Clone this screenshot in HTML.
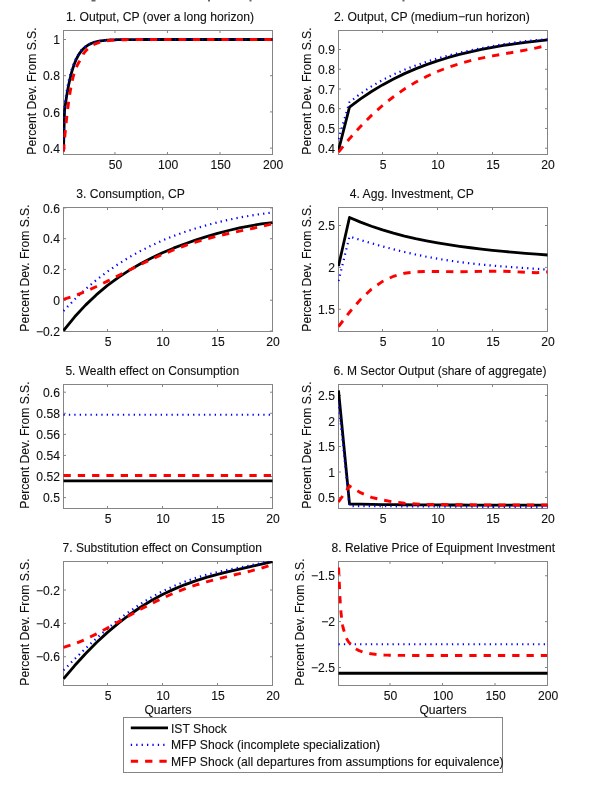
<!DOCTYPE html><html><head><meta charset="utf-8"><style>html,body{margin:0;padding:0;background:#fff;width:600px;height:795px;overflow:hidden}svg{display:block;will-change:transform}text{font-family:"Liberation Sans",sans-serif}</style></head><body><svg width="600" height="795" viewBox="0 0 600 795">
<rect width="600" height="795" fill="#fff"/>
<rect x="91.5" y="0" width="4" height="1.5" fill="#666"/>
<rect x="208.0" y="0" width="2" height="1.5" fill="#666"/>
<rect x="249.5" y="0" width="2" height="1.5" fill="#666"/>
<rect x="402.5" y="0" width="2" height="1.5" fill="#666"/>
<clipPath id="c1"><rect x="62.9" y="29.9" width="210.2" height="125.2"/></clipPath>
<rect x="63.5" y="30.5" width="209.0" height="124.0" fill="none" stroke="#858585" stroke-width="1"/>
<path d="M63.5 148.10h2.5M272.5 148.10h-2.5" stroke="#858585" stroke-width="1"/>
<text x="60.00" y="152.70" text-anchor="end" font-family="Liberation Sans, sans-serif" font-size="12.15" stroke="#000" stroke-width="0.2" stroke-opacity="0.5" fill="#111">0.4</text>
<path d="M63.5 111.90h2.5M272.5 111.90h-2.5" stroke="#858585" stroke-width="1"/>
<text x="60.00" y="116.50" text-anchor="end" font-family="Liberation Sans, sans-serif" font-size="12.15" stroke="#000" stroke-width="0.2" stroke-opacity="0.5" fill="#111">0.6</text>
<path d="M63.5 75.70h2.5M272.5 75.70h-2.5" stroke="#858585" stroke-width="1"/>
<text x="60.00" y="80.30" text-anchor="end" font-family="Liberation Sans, sans-serif" font-size="12.15" stroke="#000" stroke-width="0.2" stroke-opacity="0.5" fill="#111">0.8</text>
<path d="M63.5 39.50h2.5M272.5 39.50h-2.5" stroke="#858585" stroke-width="1"/>
<text x="60.00" y="44.10" text-anchor="end" font-family="Liberation Sans, sans-serif" font-size="12.15" stroke="#000" stroke-width="0.2" stroke-opacity="0.5" fill="#111">1</text>
<path d="M114.96 154.5v-2.5M114.96 30.5v2.5" stroke="#858585" stroke-width="1"/>
<text x="115.56" y="169.40" text-anchor="middle" font-family="Liberation Sans, sans-serif" font-size="12.15" stroke="#000" stroke-width="0.2" stroke-opacity="0.5" fill="#111">50</text>
<path d="M167.47 154.5v-2.5M167.47 30.5v2.5" stroke="#858585" stroke-width="1"/>
<text x="168.07" y="169.40" text-anchor="middle" font-family="Liberation Sans, sans-serif" font-size="12.15" stroke="#000" stroke-width="0.2" stroke-opacity="0.5" fill="#111">100</text>
<path d="M219.99 154.5v-2.5M219.99 30.5v2.5" stroke="#858585" stroke-width="1"/>
<text x="220.59" y="169.40" text-anchor="middle" font-family="Liberation Sans, sans-serif" font-size="12.15" stroke="#000" stroke-width="0.2" stroke-opacity="0.5" fill="#111">150</text>
<path d="M272.50 154.5v-2.5M272.50 30.5v2.5" stroke="#858585" stroke-width="1"/>
<text x="273.10" y="169.40" text-anchor="middle" font-family="Liberation Sans, sans-serif" font-size="12.15" stroke="#000" stroke-width="0.2" stroke-opacity="0.5" fill="#111">200</text>
<polyline clip-path="url(#c1)" points="63.50,149.91 64.55,110.42 65.60,102.90 66.65,96.14 67.70,90.06 68.75,84.60 69.80,79.72 70.85,75.36 71.90,71.46 72.95,67.99 74.00,64.90 75.05,62.16 76.10,59.71 77.15,57.54 78.20,55.62 79.25,53.91 80.30,52.39 81.35,51.05 82.40,49.87 83.45,48.85 84.51,47.82 85.56,46.90 86.61,46.09 87.66,45.36 88.71,44.72 89.76,44.14 90.81,43.63 91.86,43.18 92.91,42.77 93.96,42.41 95.01,42.09 96.06,41.81 97.11,41.55 98.16,41.33 99.21,41.13 100.26,40.95 101.31,40.79 102.36,40.65 103.41,40.52 104.46,40.41 105.51,40.31 106.56,40.22 107.61,40.14 108.66,40.07 109.71,40.01 110.76,39.95 111.81,39.90 112.86,39.86 113.91,39.82 114.96,39.78 116.01,39.75 117.06,39.72 118.11,39.70 119.16,39.68 120.21,39.66 121.26,39.64 122.31,39.63 123.36,39.61 124.41,39.60 125.46,39.59 126.52,39.58 127.57,39.57 128.62,39.56 129.67,39.56 130.72,39.55 131.77,39.54 132.82,39.54 133.87,39.53 134.92,39.53 135.97,39.53 137.02,39.52 138.07,39.52 139.12,39.52 140.17,39.52 141.22,39.52 142.27,39.51 143.32,39.51 144.37,39.51 145.42,39.51 146.47,39.51 147.52,39.51 148.57,39.51 149.62,39.51 150.67,39.51 151.72,39.50 152.77,39.50 153.82,39.50 154.87,39.50 155.92,39.50 156.97,39.50 158.02,39.50 159.07,39.50 160.12,39.50 161.17,39.50 162.22,39.50 163.27,39.50 164.32,39.50 165.37,39.50 166.42,39.50 167.47,39.50 168.53,39.50 169.58,39.50 170.63,39.50 171.68,39.50 172.73,39.50 173.78,39.50 174.83,39.50 175.88,39.50 176.93,39.50 177.98,39.50 179.03,39.50 180.08,39.50 181.13,39.50 182.18,39.50 183.23,39.50 184.28,39.50 185.33,39.50 186.38,39.50 187.43,39.50 188.48,39.50 189.53,39.50 190.58,39.50 191.63,39.50 192.68,39.50 193.73,39.50 194.78,39.50 195.83,39.50 196.88,39.50 197.93,39.50 198.98,39.50 200.03,39.50 201.08,39.50 202.13,39.50 203.18,39.50 204.23,39.50 205.28,39.50 206.33,39.50 207.38,39.50 208.43,39.50 209.48,39.50 210.54,39.50 211.59,39.50 212.64,39.50 213.69,39.50 214.74,39.50 215.79,39.50 216.84,39.50 217.89,39.50 218.94,39.50 219.99,39.50 221.04,39.50 222.09,39.50 223.14,39.50 224.19,39.50 225.24,39.50 226.29,39.50 227.34,39.50 228.39,39.50 229.44,39.50 230.49,39.50 231.54,39.50 232.59,39.50 233.64,39.50 234.69,39.50 235.74,39.50 236.79,39.50 237.84,39.50 238.89,39.50 239.94,39.50 240.99,39.50 242.04,39.50 243.09,39.50 244.14,39.50 245.19,39.50 246.24,39.50 247.29,39.50 248.34,39.50 249.39,39.50 250.44,39.50 251.49,39.50 252.55,39.50 253.60,39.50 254.65,39.50 255.70,39.50 256.75,39.50 257.80,39.50 258.85,39.50 259.90,39.50 260.95,39.50 262.00,39.50 263.05,39.50 264.10,39.50 265.15,39.50 266.20,39.50 267.25,39.50 268.30,39.50 269.35,39.50 270.40,39.50 271.45,39.50 272.50,39.50" stroke="#000" stroke-width="2.8" fill="none" stroke-linejoin="round"/>
<polyline clip-path="url(#c1)" points="63.50,139.77 64.55,105.79 65.60,98.08 66.65,91.40 67.70,85.60 68.75,80.56 69.80,76.16 70.85,72.30 71.90,68.89 72.95,65.85 74.00,63.12 75.05,60.64 76.10,58.39 77.15,56.33 78.20,54.45 79.25,52.76 80.30,51.27 81.35,49.99 82.40,48.98 83.45,48.29 84.51,47.32 85.56,46.46 86.61,45.70 87.66,45.01 88.71,44.41 89.76,43.87 90.81,43.39 91.86,42.96 92.91,42.58 93.96,42.24 95.01,41.94 96.06,41.67 97.11,41.43 98.16,41.22 99.21,41.03 100.26,40.86 101.31,40.71 102.36,40.58 103.41,40.46 104.46,40.35 105.51,40.26 106.56,40.18 107.61,40.10 108.66,40.04 109.71,39.98 110.76,39.92 111.81,39.88 112.86,39.84 113.91,39.80 114.96,39.77 116.01,39.74 117.06,39.71 118.11,39.69 119.16,39.67 120.21,39.65 121.26,39.63 122.31,39.62 123.36,39.60 124.41,39.59 125.46,39.58 126.52,39.57 127.57,39.57 128.62,39.56 129.67,39.55 130.72,39.55 131.77,39.54 132.82,39.54 133.87,39.53 134.92,39.53 135.97,39.53 137.02,39.52 138.07,39.52 139.12,39.52 140.17,39.52 141.22,39.51 142.27,39.51 143.32,39.51 144.37,39.51 145.42,39.51 146.47,39.51 147.52,39.51 148.57,39.51 149.62,39.51 150.67,39.51 151.72,39.50 152.77,39.50 153.82,39.50 154.87,39.50 155.92,39.50 156.97,39.50 158.02,39.50 159.07,39.50 160.12,39.50 161.17,39.50 162.22,39.50 163.27,39.50 164.32,39.50 165.37,39.50 166.42,39.50 167.47,39.50 168.53,39.50 169.58,39.50 170.63,39.50 171.68,39.50 172.73,39.50 173.78,39.50 174.83,39.50 175.88,39.50 176.93,39.50 177.98,39.50 179.03,39.50 180.08,39.50 181.13,39.50 182.18,39.50 183.23,39.50 184.28,39.50 185.33,39.50 186.38,39.50 187.43,39.50 188.48,39.50 189.53,39.50 190.58,39.50 191.63,39.50 192.68,39.50 193.73,39.50 194.78,39.50 195.83,39.50 196.88,39.50 197.93,39.50 198.98,39.50 200.03,39.50 201.08,39.50 202.13,39.50 203.18,39.50 204.23,39.50 205.28,39.50 206.33,39.50 207.38,39.50 208.43,39.50 209.48,39.50 210.54,39.50 211.59,39.50 212.64,39.50 213.69,39.50 214.74,39.50 215.79,39.50 216.84,39.50 217.89,39.50 218.94,39.50 219.99,39.50 221.04,39.50 222.09,39.50 223.14,39.50 224.19,39.50 225.24,39.50 226.29,39.50 227.34,39.50 228.39,39.50 229.44,39.50 230.49,39.50 231.54,39.50 232.59,39.50 233.64,39.50 234.69,39.50 235.74,39.50 236.79,39.50 237.84,39.50 238.89,39.50 239.94,39.50 240.99,39.50 242.04,39.50 243.09,39.50 244.14,39.50 245.19,39.50 246.24,39.50 247.29,39.50 248.34,39.50 249.39,39.50 250.44,39.50 251.49,39.50 252.55,39.50 253.60,39.50 254.65,39.50 255.70,39.50 256.75,39.50 257.80,39.50 258.85,39.50 259.90,39.50 260.95,39.50 262.00,39.50 263.05,39.50 264.10,39.50 265.15,39.50 266.20,39.50 267.25,39.50 268.30,39.50 269.35,39.50 270.40,39.50 271.45,39.50 272.50,39.50" stroke="#0000ff" stroke-width="2.2" fill="none" stroke-dasharray="1.3 4.1"/>
<polyline clip-path="url(#c1)" points="63.50,151.67 64.55,139.36 65.60,128.16 66.65,118.05 67.70,108.98 68.75,100.93 69.80,93.84 70.85,87.66 71.90,82.31 72.95,77.74 74.00,73.87 75.05,70.60 76.10,67.86 77.15,65.53 78.20,63.51 79.25,61.68 80.30,59.93 81.35,58.13 82.40,56.13 83.45,53.80 84.51,52.37 85.56,51.08 86.61,49.92 87.66,48.88 88.71,47.94 89.76,47.10 90.81,46.34 91.86,45.65 92.91,45.04 93.96,44.48 95.01,43.99 96.06,43.54 97.11,43.13 98.16,42.77 99.21,42.44 100.26,42.15 101.31,41.88 102.36,41.65 103.41,41.43 104.46,41.24 105.51,41.06 106.56,40.91 107.61,40.77 108.66,40.64 109.71,40.53 110.76,40.42 111.81,40.33 112.86,40.25 113.91,40.17 114.96,40.11 116.01,40.05 117.06,39.99 118.11,39.94 119.16,39.90 120.21,39.86 121.26,39.82 122.31,39.79 123.36,39.76 124.41,39.73 125.46,39.71 126.52,39.69 127.57,39.67 128.62,39.65 129.67,39.64 130.72,39.62 131.77,39.61 132.82,39.60 133.87,39.59 134.92,39.58 135.97,39.57 137.02,39.57 138.07,39.56 139.12,39.55 140.17,39.55 141.22,39.54 142.27,39.54 143.32,39.54 144.37,39.53 145.42,39.53 146.47,39.53 147.52,39.52 148.57,39.52 149.62,39.52 150.67,39.52 151.72,39.52 152.77,39.51 153.82,39.51 154.87,39.51 155.92,39.51 156.97,39.51 158.02,39.51 159.07,39.51 160.12,39.51 161.17,39.51 162.22,39.51 163.27,39.50 164.32,39.50 165.37,39.50 166.42,39.50 167.47,39.50 168.53,39.50 169.58,39.50 170.63,39.50 171.68,39.50 172.73,39.50 173.78,39.50 174.83,39.50 175.88,39.50 176.93,39.50 177.98,39.50 179.03,39.50 180.08,39.50 181.13,39.50 182.18,39.50 183.23,39.50 184.28,39.50 185.33,39.50 186.38,39.50 187.43,39.50 188.48,39.50 189.53,39.50 190.58,39.50 191.63,39.50 192.68,39.50 193.73,39.50 194.78,39.50 195.83,39.50 196.88,39.50 197.93,39.50 198.98,39.50 200.03,39.50 201.08,39.50 202.13,39.50 203.18,39.50 204.23,39.50 205.28,39.50 206.33,39.50 207.38,39.50 208.43,39.50 209.48,39.50 210.54,39.50 211.59,39.50 212.64,39.50 213.69,39.50 214.74,39.50 215.79,39.50 216.84,39.50 217.89,39.50 218.94,39.50 219.99,39.50 221.04,39.50 222.09,39.50 223.14,39.50 224.19,39.50 225.24,39.50 226.29,39.50 227.34,39.50 228.39,39.50 229.44,39.50 230.49,39.50 231.54,39.50 232.59,39.50 233.64,39.50 234.69,39.50 235.74,39.50 236.79,39.50 237.84,39.50 238.89,39.50 239.94,39.50 240.99,39.50 242.04,39.50 243.09,39.50 244.14,39.50 245.19,39.50 246.24,39.50 247.29,39.50 248.34,39.50 249.39,39.50 250.44,39.50 251.49,39.50 252.55,39.50 253.60,39.50 254.65,39.50 255.70,39.50 256.75,39.50 257.80,39.50 258.85,39.50 259.90,39.50 260.95,39.50 262.00,39.50 263.05,39.50 264.10,39.50 265.15,39.50 266.20,39.50 267.25,39.50 268.30,39.50 269.35,39.50 270.40,39.50 271.45,39.50 272.50,39.50" stroke="#ff0000" stroke-width="2.9" fill="none" stroke-dasharray="7.3 7.0"/>
<text x="66" y="20.8" font-family="Liberation Sans, sans-serif" font-size="12.15" stroke="#000" stroke-width="0.2" stroke-opacity="0.5" fill="#111">1. Output, CP (over a long horizon)</text>
<text transform="translate(36.2 91.05) rotate(-90)" text-anchor="middle" font-family="Liberation Sans, sans-serif" font-size="12.15" stroke="#000" stroke-width="0.2" stroke-opacity="0.5" fill="#111">Percent Dev. From S.S.</text>
<clipPath id="c2"><rect x="337.9" y="29.9" width="210.2" height="125.2"/></clipPath>
<rect x="338.5" y="30.5" width="209.0" height="124.0" fill="none" stroke="#858585" stroke-width="1"/>
<path d="M338.5 148.20h2.5M547.5 148.20h-2.5" stroke="#858585" stroke-width="1"/>
<text x="335.00" y="152.80" text-anchor="end" font-family="Liberation Sans, sans-serif" font-size="12.15" stroke="#000" stroke-width="0.2" stroke-opacity="0.5" fill="#111">0.4</text>
<path d="M338.5 128.46h2.5M547.5 128.46h-2.5" stroke="#858585" stroke-width="1"/>
<text x="335.00" y="133.06" text-anchor="end" font-family="Liberation Sans, sans-serif" font-size="12.15" stroke="#000" stroke-width="0.2" stroke-opacity="0.5" fill="#111">0.5</text>
<path d="M338.5 108.72h2.5M547.5 108.72h-2.5" stroke="#858585" stroke-width="1"/>
<text x="335.00" y="113.32" text-anchor="end" font-family="Liberation Sans, sans-serif" font-size="12.15" stroke="#000" stroke-width="0.2" stroke-opacity="0.5" fill="#111">0.6</text>
<path d="M338.5 88.98h2.5M547.5 88.98h-2.5" stroke="#858585" stroke-width="1"/>
<text x="335.00" y="93.58" text-anchor="end" font-family="Liberation Sans, sans-serif" font-size="12.15" stroke="#000" stroke-width="0.2" stroke-opacity="0.5" fill="#111">0.7</text>
<path d="M338.5 69.24h2.5M547.5 69.24h-2.5" stroke="#858585" stroke-width="1"/>
<text x="335.00" y="73.84" text-anchor="end" font-family="Liberation Sans, sans-serif" font-size="12.15" stroke="#000" stroke-width="0.2" stroke-opacity="0.5" fill="#111">0.8</text>
<path d="M338.5 49.50h2.5M547.5 49.50h-2.5" stroke="#858585" stroke-width="1"/>
<text x="335.00" y="54.10" text-anchor="end" font-family="Liberation Sans, sans-serif" font-size="12.15" stroke="#000" stroke-width="0.2" stroke-opacity="0.5" fill="#111">0.9</text>
<path d="M382.50 154.5v-2.5M382.50 30.5v2.5" stroke="#858585" stroke-width="1"/>
<text x="383.10" y="169.40" text-anchor="middle" font-family="Liberation Sans, sans-serif" font-size="12.15" stroke="#000" stroke-width="0.2" stroke-opacity="0.5" fill="#111">5</text>
<path d="M437.50 154.5v-2.5M437.50 30.5v2.5" stroke="#858585" stroke-width="1"/>
<text x="438.10" y="169.40" text-anchor="middle" font-family="Liberation Sans, sans-serif" font-size="12.15" stroke="#000" stroke-width="0.2" stroke-opacity="0.5" fill="#111">10</text>
<path d="M492.50 154.5v-2.5M492.50 30.5v2.5" stroke="#858585" stroke-width="1"/>
<text x="493.10" y="169.40" text-anchor="middle" font-family="Liberation Sans, sans-serif" font-size="12.15" stroke="#000" stroke-width="0.2" stroke-opacity="0.5" fill="#111">15</text>
<path d="M547.50 154.5v-2.5M547.50 30.5v2.5" stroke="#858585" stroke-width="1"/>
<text x="548.10" y="169.40" text-anchor="middle" font-family="Liberation Sans, sans-serif" font-size="12.15" stroke="#000" stroke-width="0.2" stroke-opacity="0.5" fill="#111">20</text>
<polyline clip-path="url(#c2)" points="338.50,150.17 349.50,107.11 360.50,98.91 371.50,91.53 382.50,84.90 393.50,78.95 404.50,73.62 415.50,68.87 426.50,64.62 437.50,60.84 448.50,57.47 459.50,54.47 470.50,51.80 481.50,49.44 492.50,47.34 503.50,45.47 514.50,43.82 525.50,42.36 536.50,41.07 547.50,39.95" stroke="#000" stroke-width="2.8" fill="none" stroke-linejoin="round"/>
<polyline clip-path="url(#c2)" points="338.50,139.12 349.50,102.05 360.50,93.65 371.50,86.36 382.50,80.04 393.50,74.54 404.50,69.74 415.50,65.53 426.50,61.81 437.50,58.49 448.50,55.52 459.50,52.82 470.50,50.36 481.50,48.11 492.50,46.07 503.50,44.22 514.50,42.59 525.50,41.20 536.50,40.10 547.50,39.34" stroke="#0000ff" stroke-width="2.2" fill="none" stroke-dasharray="1.3 4.1"/>
<polyline clip-path="url(#c2)" points="338.50,152.09 349.50,138.67 360.50,126.45 371.50,115.42 382.50,105.54 393.50,96.76 404.50,89.02 415.50,82.28 426.50,76.45 437.50,71.47 448.50,67.24 459.50,63.68 470.50,60.69 481.50,58.15 492.50,55.94 503.50,53.95 514.50,52.04 525.50,50.07 536.50,47.90 547.50,45.35" stroke="#ff0000" stroke-width="2.9" fill="none" stroke-dasharray="7.3 7.0"/>
<text x="334" y="20.8" font-family="Liberation Sans, sans-serif" font-size="12.15" stroke="#000" stroke-width="0.2" stroke-opacity="0.5" fill="#111">2. Output, CP (medium−run horizon)</text>
<text transform="translate(310.9 91.05) rotate(-90)" text-anchor="middle" font-family="Liberation Sans, sans-serif" font-size="12.15" stroke="#000" stroke-width="0.2" stroke-opacity="0.5" fill="#111">Percent Dev. From S.S.</text>
<clipPath id="c3"><rect x="62.9" y="206.9" width="210.2" height="125.2"/></clipPath>
<rect x="63.5" y="207.5" width="209.0" height="124.0" fill="none" stroke="#858585" stroke-width="1"/>
<path d="M63.5 331.00h2.5M272.5 331.00h-2.5" stroke="#858585" stroke-width="1"/>
<text x="60.00" y="335.60" text-anchor="end" font-family="Liberation Sans, sans-serif" font-size="12.15" stroke="#000" stroke-width="0.2" stroke-opacity="0.5" fill="#111">−0.2</text>
<path d="M63.5 300.22h2.5M272.5 300.22h-2.5" stroke="#858585" stroke-width="1"/>
<text x="60.00" y="304.82" text-anchor="end" font-family="Liberation Sans, sans-serif" font-size="12.15" stroke="#000" stroke-width="0.2" stroke-opacity="0.5" fill="#111">0</text>
<path d="M63.5 269.45h2.5M272.5 269.45h-2.5" stroke="#858585" stroke-width="1"/>
<text x="60.00" y="274.05" text-anchor="end" font-family="Liberation Sans, sans-serif" font-size="12.15" stroke="#000" stroke-width="0.2" stroke-opacity="0.5" fill="#111">0.2</text>
<path d="M63.5 238.67h2.5M272.5 238.67h-2.5" stroke="#858585" stroke-width="1"/>
<text x="60.00" y="243.27" text-anchor="end" font-family="Liberation Sans, sans-serif" font-size="12.15" stroke="#000" stroke-width="0.2" stroke-opacity="0.5" fill="#111">0.4</text>
<path d="M63.5 207.90h2.5M272.5 207.90h-2.5" stroke="#858585" stroke-width="1"/>
<text x="60.00" y="212.50" text-anchor="end" font-family="Liberation Sans, sans-serif" font-size="12.15" stroke="#000" stroke-width="0.2" stroke-opacity="0.5" fill="#111">0.6</text>
<path d="M107.50 331.5v-2.5M107.50 207.5v2.5" stroke="#858585" stroke-width="1"/>
<text x="108.10" y="346.40" text-anchor="middle" font-family="Liberation Sans, sans-serif" font-size="12.15" stroke="#000" stroke-width="0.2" stroke-opacity="0.5" fill="#111">5</text>
<path d="M162.50 331.5v-2.5M162.50 207.5v2.5" stroke="#858585" stroke-width="1"/>
<text x="163.10" y="346.40" text-anchor="middle" font-family="Liberation Sans, sans-serif" font-size="12.15" stroke="#000" stroke-width="0.2" stroke-opacity="0.5" fill="#111">10</text>
<path d="M217.50 331.5v-2.5M217.50 207.5v2.5" stroke="#858585" stroke-width="1"/>
<text x="218.10" y="346.40" text-anchor="middle" font-family="Liberation Sans, sans-serif" font-size="12.15" stroke="#000" stroke-width="0.2" stroke-opacity="0.5" fill="#111">15</text>
<path d="M272.50 331.5v-2.5M272.50 207.5v2.5" stroke="#858585" stroke-width="1"/>
<text x="273.10" y="346.40" text-anchor="middle" font-family="Liberation Sans, sans-serif" font-size="12.15" stroke="#000" stroke-width="0.2" stroke-opacity="0.5" fill="#111">20</text>
<polyline clip-path="url(#c3)" points="63.50,330.56 74.50,317.03 85.50,305.13 96.50,294.66 107.50,285.44 118.50,277.30 129.50,270.10 140.50,263.69 151.50,257.97 162.50,252.82 173.50,248.17 184.50,243.95 195.50,240.10 206.50,236.59 217.50,233.39 228.50,230.51 239.50,227.96 250.50,225.76 261.50,223.96 272.50,222.63" stroke="#000" stroke-width="2.8" fill="none" stroke-linejoin="round"/>
<polyline clip-path="url(#c3)" points="63.50,310.94 74.50,299.54 85.50,289.23 96.50,279.91 107.50,271.51 118.50,263.94 129.50,257.11 140.50,250.98 151.50,245.45 162.50,240.49 173.50,236.03 184.50,232.03 195.50,228.45 206.50,225.24 217.50,222.37 228.50,219.83 239.50,217.58 250.50,215.61 261.50,213.92 272.50,212.50" stroke="#0000ff" stroke-width="2.2" fill="none" stroke-dasharray="1.3 4.1"/>
<polyline clip-path="url(#c3)" points="63.50,299.39 74.50,295.87 85.50,291.50 96.50,286.51 107.50,281.14 118.50,275.57 129.50,269.98 140.50,264.52 151.50,259.29 162.50,254.39 173.50,249.88 184.50,245.80 195.50,242.16 206.50,238.92 217.50,236.06 228.50,233.50 239.50,231.14 250.50,228.85 261.50,226.48 272.50,223.84" stroke="#ff0000" stroke-width="2.9" fill="none" stroke-dasharray="7.3 7.0"/>
<text x="76.2" y="197.6" font-family="Liberation Sans, sans-serif" font-size="12.15" stroke="#000" stroke-width="0.2" stroke-opacity="0.5" fill="#111">3. Consumption, CP</text>
<text transform="translate(28.6 268.05) rotate(-90)" text-anchor="middle" font-family="Liberation Sans, sans-serif" font-size="12.15" stroke="#000" stroke-width="0.2" stroke-opacity="0.5" fill="#111">Percent Dev. From S.S.</text>
<clipPath id="c4"><rect x="337.9" y="206.9" width="210.2" height="125.2"/></clipPath>
<rect x="338.5" y="207.5" width="209.0" height="124.0" fill="none" stroke="#858585" stroke-width="1"/>
<path d="M338.5 309.25h2.5M547.5 309.25h-2.5" stroke="#858585" stroke-width="1"/>
<text x="335.00" y="313.85" text-anchor="end" font-family="Liberation Sans, sans-serif" font-size="12.15" stroke="#000" stroke-width="0.2" stroke-opacity="0.5" fill="#111">1.5</text>
<path d="M338.5 267.38h2.5M547.5 267.38h-2.5" stroke="#858585" stroke-width="1"/>
<text x="335.00" y="271.98" text-anchor="end" font-family="Liberation Sans, sans-serif" font-size="12.15" stroke="#000" stroke-width="0.2" stroke-opacity="0.5" fill="#111">2</text>
<path d="M338.5 225.50h2.5M547.5 225.50h-2.5" stroke="#858585" stroke-width="1"/>
<text x="335.00" y="230.10" text-anchor="end" font-family="Liberation Sans, sans-serif" font-size="12.15" stroke="#000" stroke-width="0.2" stroke-opacity="0.5" fill="#111">2.5</text>
<path d="M382.50 331.5v-2.5M382.50 207.5v2.5" stroke="#858585" stroke-width="1"/>
<text x="383.10" y="346.40" text-anchor="middle" font-family="Liberation Sans, sans-serif" font-size="12.15" stroke="#000" stroke-width="0.2" stroke-opacity="0.5" fill="#111">5</text>
<path d="M437.50 331.5v-2.5M437.50 207.5v2.5" stroke="#858585" stroke-width="1"/>
<text x="438.10" y="346.40" text-anchor="middle" font-family="Liberation Sans, sans-serif" font-size="12.15" stroke="#000" stroke-width="0.2" stroke-opacity="0.5" fill="#111">10</text>
<path d="M492.50 331.5v-2.5M492.50 207.5v2.5" stroke="#858585" stroke-width="1"/>
<text x="493.10" y="346.40" text-anchor="middle" font-family="Liberation Sans, sans-serif" font-size="12.15" stroke="#000" stroke-width="0.2" stroke-opacity="0.5" fill="#111">15</text>
<path d="M547.50 331.5v-2.5M547.50 207.5v2.5" stroke="#858585" stroke-width="1"/>
<text x="548.10" y="346.40" text-anchor="middle" font-family="Liberation Sans, sans-serif" font-size="12.15" stroke="#000" stroke-width="0.2" stroke-opacity="0.5" fill="#111">20</text>
<polyline clip-path="url(#c4)" points="338.50,266.03 349.50,217.48 360.50,222.15 371.50,226.28 382.50,229.94 393.50,233.18 404.50,236.05 415.50,238.59 426.50,240.85 437.50,242.86 448.50,244.66 459.50,246.27 470.50,247.74 481.50,249.06 492.50,250.28 503.50,251.39 514.50,252.41 525.50,253.36 536.50,254.22 547.50,255.00" stroke="#000" stroke-width="2.8" fill="none" stroke-linejoin="round"/>
<polyline clip-path="url(#c4)" points="338.50,281.03 349.50,236.56 360.50,240.00 371.50,243.29 382.50,246.40 393.50,249.31 404.50,252.01 415.50,254.48 426.50,256.72 437.50,258.73 448.50,260.50 459.50,262.06 470.50,263.41 481.50,264.59 492.50,265.60 503.50,266.49 514.50,267.30 525.50,268.05 536.50,268.81 547.50,269.62" stroke="#0000ff" stroke-width="2.2" fill="none" stroke-dasharray="1.3 4.1"/>
<polyline clip-path="url(#c4)" points="338.50,326.54 349.50,312.26 360.50,299.47 371.50,289.08 382.50,281.39 393.50,276.25 404.50,273.24 415.50,271.81 426.50,271.39 437.50,271.48 448.50,271.67 459.50,271.75 470.50,271.64 481.50,271.41 492.50,271.22 503.50,271.27 514.50,271.65 525.50,272.27 536.50,272.69 547.50,271.91" stroke="#ff0000" stroke-width="2.9" fill="none" stroke-dasharray="7.3 7.0"/>
<text x="349.8" y="197.6" font-family="Liberation Sans, sans-serif" font-size="12.15" stroke="#000" stroke-width="0.2" stroke-opacity="0.5" fill="#111">4. Agg. Investment, CP</text>
<text transform="translate(310.9 268.05) rotate(-90)" text-anchor="middle" font-family="Liberation Sans, sans-serif" font-size="12.15" stroke="#000" stroke-width="0.2" stroke-opacity="0.5" fill="#111">Percent Dev. From S.S.</text>
<clipPath id="c5"><rect x="62.9" y="383.9" width="210.2" height="125.2"/></clipPath>
<rect x="63.5" y="384.5" width="209.0" height="124.0" fill="none" stroke="#858585" stroke-width="1"/>
<path d="M63.5 497.60h2.5M272.5 497.60h-2.5" stroke="#858585" stroke-width="1"/>
<text x="60.00" y="502.20" text-anchor="end" font-family="Liberation Sans, sans-serif" font-size="12.15" stroke="#000" stroke-width="0.2" stroke-opacity="0.5" fill="#111">0.5</text>
<path d="M63.5 476.52h2.5M272.5 476.52h-2.5" stroke="#858585" stroke-width="1"/>
<text x="60.00" y="481.12" text-anchor="end" font-family="Liberation Sans, sans-serif" font-size="12.15" stroke="#000" stroke-width="0.2" stroke-opacity="0.5" fill="#111">0.52</text>
<path d="M63.5 455.44h2.5M272.5 455.44h-2.5" stroke="#858585" stroke-width="1"/>
<text x="60.00" y="460.04" text-anchor="end" font-family="Liberation Sans, sans-serif" font-size="12.15" stroke="#000" stroke-width="0.2" stroke-opacity="0.5" fill="#111">0.54</text>
<path d="M63.5 434.36h2.5M272.5 434.36h-2.5" stroke="#858585" stroke-width="1"/>
<text x="60.00" y="438.96" text-anchor="end" font-family="Liberation Sans, sans-serif" font-size="12.15" stroke="#000" stroke-width="0.2" stroke-opacity="0.5" fill="#111">0.56</text>
<path d="M63.5 413.28h2.5M272.5 413.28h-2.5" stroke="#858585" stroke-width="1"/>
<text x="60.00" y="417.88" text-anchor="end" font-family="Liberation Sans, sans-serif" font-size="12.15" stroke="#000" stroke-width="0.2" stroke-opacity="0.5" fill="#111">0.58</text>
<path d="M63.5 392.20h2.5M272.5 392.20h-2.5" stroke="#858585" stroke-width="1"/>
<text x="60.00" y="396.80" text-anchor="end" font-family="Liberation Sans, sans-serif" font-size="12.15" stroke="#000" stroke-width="0.2" stroke-opacity="0.5" fill="#111">0.6</text>
<path d="M107.50 508.5v-2.5M107.50 384.5v2.5" stroke="#858585" stroke-width="1"/>
<text x="108.10" y="523.40" text-anchor="middle" font-family="Liberation Sans, sans-serif" font-size="12.15" stroke="#000" stroke-width="0.2" stroke-opacity="0.5" fill="#111">5</text>
<path d="M162.50 508.5v-2.5M162.50 384.5v2.5" stroke="#858585" stroke-width="1"/>
<text x="163.10" y="523.40" text-anchor="middle" font-family="Liberation Sans, sans-serif" font-size="12.15" stroke="#000" stroke-width="0.2" stroke-opacity="0.5" fill="#111">10</text>
<path d="M217.50 508.5v-2.5M217.50 384.5v2.5" stroke="#858585" stroke-width="1"/>
<text x="218.10" y="523.40" text-anchor="middle" font-family="Liberation Sans, sans-serif" font-size="12.15" stroke="#000" stroke-width="0.2" stroke-opacity="0.5" fill="#111">15</text>
<path d="M272.50 508.5v-2.5M272.50 384.5v2.5" stroke="#858585" stroke-width="1"/>
<text x="273.10" y="523.40" text-anchor="middle" font-family="Liberation Sans, sans-serif" font-size="12.15" stroke="#000" stroke-width="0.2" stroke-opacity="0.5" fill="#111">20</text>
<polyline clip-path="url(#c5)" points="63.50,480.95 74.50,480.95 85.50,480.95 96.50,480.95 107.50,480.95 118.50,480.95 129.50,480.95 140.50,480.95 151.50,480.95 162.50,480.95 173.50,480.95 184.50,480.95 195.50,480.95 206.50,480.95 217.50,480.95 228.50,480.95 239.50,480.95 250.50,480.95 261.50,480.95 272.50,480.95" stroke="#000" stroke-width="2.8" fill="none" stroke-linejoin="round"/>
<polyline clip-path="url(#c5)" points="63.50,414.76 74.50,414.76 85.50,414.76 96.50,414.76 107.50,414.76 118.50,414.76 129.50,414.76 140.50,414.76 151.50,414.76 162.50,414.76 173.50,414.76 184.50,414.76 195.50,414.76 206.50,414.76 217.50,414.76 228.50,414.76 239.50,414.76 250.50,414.76 261.50,414.76 272.50,414.76" stroke="#0000ff" stroke-width="2.2" fill="none" stroke-dasharray="1.3 4.1"/>
<polyline clip-path="url(#c5)" points="63.50,475.57 74.50,475.57 85.50,475.57 96.50,475.57 107.50,475.57 118.50,475.57 129.50,475.57 140.50,475.57 151.50,475.57 162.50,475.57 173.50,475.57 184.50,475.57 195.50,475.57 206.50,475.57 217.50,475.57 228.50,475.57 239.50,475.57 250.50,475.57 261.50,475.57 272.50,475.57" stroke="#ff0000" stroke-width="2.9" fill="none" stroke-dasharray="7.3 7.0"/>
<text x="65.4" y="374.5" font-family="Liberation Sans, sans-serif" font-size="12.0" stroke="#000" stroke-width="0.2" stroke-opacity="0.5" fill="#111">5. Wealth effect on Consumption</text>
<text transform="translate(28.6 445.05) rotate(-90)" text-anchor="middle" font-family="Liberation Sans, sans-serif" font-size="12.15" stroke="#000" stroke-width="0.2" stroke-opacity="0.5" fill="#111">Percent Dev. From S.S.</text>
<clipPath id="c6"><rect x="337.9" y="383.9" width="210.2" height="125.2"/></clipPath>
<rect x="338.5" y="384.5" width="209.0" height="124.0" fill="none" stroke="#858585" stroke-width="1"/>
<path d="M338.5 497.50h2.5M547.5 497.50h-2.5" stroke="#858585" stroke-width="1"/>
<text x="335.00" y="502.10" text-anchor="end" font-family="Liberation Sans, sans-serif" font-size="12.15" stroke="#000" stroke-width="0.2" stroke-opacity="0.5" fill="#111">0.5</text>
<path d="M338.5 472.00h2.5M547.5 472.00h-2.5" stroke="#858585" stroke-width="1"/>
<text x="335.00" y="476.60" text-anchor="end" font-family="Liberation Sans, sans-serif" font-size="12.15" stroke="#000" stroke-width="0.2" stroke-opacity="0.5" fill="#111">1</text>
<path d="M338.5 446.50h2.5M547.5 446.50h-2.5" stroke="#858585" stroke-width="1"/>
<text x="335.00" y="451.10" text-anchor="end" font-family="Liberation Sans, sans-serif" font-size="12.15" stroke="#000" stroke-width="0.2" stroke-opacity="0.5" fill="#111">1.5</text>
<path d="M338.5 421.00h2.5M547.5 421.00h-2.5" stroke="#858585" stroke-width="1"/>
<text x="335.00" y="425.60" text-anchor="end" font-family="Liberation Sans, sans-serif" font-size="12.15" stroke="#000" stroke-width="0.2" stroke-opacity="0.5" fill="#111">2</text>
<path d="M338.5 395.50h2.5M547.5 395.50h-2.5" stroke="#858585" stroke-width="1"/>
<text x="335.00" y="400.10" text-anchor="end" font-family="Liberation Sans, sans-serif" font-size="12.15" stroke="#000" stroke-width="0.2" stroke-opacity="0.5" fill="#111">2.5</text>
<path d="M382.50 508.5v-2.5M382.50 384.5v2.5" stroke="#858585" stroke-width="1"/>
<text x="383.10" y="523.40" text-anchor="middle" font-family="Liberation Sans, sans-serif" font-size="12.15" stroke="#000" stroke-width="0.2" stroke-opacity="0.5" fill="#111">5</text>
<path d="M437.50 508.5v-2.5M437.50 384.5v2.5" stroke="#858585" stroke-width="1"/>
<text x="438.10" y="523.40" text-anchor="middle" font-family="Liberation Sans, sans-serif" font-size="12.15" stroke="#000" stroke-width="0.2" stroke-opacity="0.5" fill="#111">10</text>
<path d="M492.50 508.5v-2.5M492.50 384.5v2.5" stroke="#858585" stroke-width="1"/>
<text x="493.10" y="523.40" text-anchor="middle" font-family="Liberation Sans, sans-serif" font-size="12.15" stroke="#000" stroke-width="0.2" stroke-opacity="0.5" fill="#111">15</text>
<path d="M547.50 508.5v-2.5M547.50 384.5v2.5" stroke="#858585" stroke-width="1"/>
<text x="548.10" y="523.40" text-anchor="middle" font-family="Liberation Sans, sans-serif" font-size="12.15" stroke="#000" stroke-width="0.2" stroke-opacity="0.5" fill="#111">20</text>
<polyline clip-path="url(#c6)" points="338.50,390.50 349.50,503.98 360.50,504.20 371.50,504.39 382.50,504.54 393.50,504.65 404.50,504.75 415.50,504.83 426.50,504.90 437.50,504.95 448.50,504.98 459.50,505.01 470.50,505.04 481.50,505.07 492.50,505.09 503.50,505.11 514.50,505.13 525.50,505.14 536.50,505.15 547.50,505.15" stroke="#000" stroke-width="2.8" fill="none" stroke-linejoin="round"/>
<polyline clip-path="url(#c6)" points="338.50,401.62 349.50,506.02 360.50,506.08 371.50,506.15 382.50,506.21 393.50,506.28 404.50,506.34 415.50,506.41 426.50,506.47 437.50,506.54 448.50,506.60 459.50,506.67 470.50,506.73 481.50,506.80 492.50,506.86 503.50,506.93 514.50,506.99 525.50,507.06 536.50,507.12 547.50,507.19" stroke="#0000ff" stroke-width="2.2" fill="none" stroke-dasharray="1.3 4.1"/>
<polyline clip-path="url(#c6)" points="338.50,501.99 349.50,486.02 360.50,492.71 371.50,497.30 382.50,500.00 393.50,501.99 404.50,503.31 415.50,503.91 426.50,504.33 437.50,504.54 448.50,504.64 459.50,504.73 470.50,504.80 481.50,504.87 492.50,504.92 503.50,504.97 514.50,505.00 525.50,505.03 536.50,505.04 547.50,505.05" stroke="#ff0000" stroke-width="2.9" fill="none" stroke-dasharray="7.3 7.0"/>
<text x="333.6" y="374.5" font-family="Liberation Sans, sans-serif" font-size="12.0" stroke="#000" stroke-width="0.2" stroke-opacity="0.5" fill="#111">6. M Sector Output (share of aggregate)</text>
<text transform="translate(310.9 445.05) rotate(-90)" text-anchor="middle" font-family="Liberation Sans, sans-serif" font-size="12.15" stroke="#000" stroke-width="0.2" stroke-opacity="0.5" fill="#111">Percent Dev. From S.S.</text>
<clipPath id="c7"><rect x="62.9" y="560.9" width="210.2" height="125.2"/></clipPath>
<rect x="63.5" y="561.5" width="209.0" height="124.0" fill="none" stroke="#858585" stroke-width="1"/>
<path d="M63.5 656.75h2.5M272.5 656.75h-2.5" stroke="#858585" stroke-width="1"/>
<text x="60.00" y="661.35" text-anchor="end" font-family="Liberation Sans, sans-serif" font-size="12.15" stroke="#000" stroke-width="0.2" stroke-opacity="0.5" fill="#111">−0.6</text>
<path d="M63.5 623.38h2.5M272.5 623.38h-2.5" stroke="#858585" stroke-width="1"/>
<text x="60.00" y="627.98" text-anchor="end" font-family="Liberation Sans, sans-serif" font-size="12.15" stroke="#000" stroke-width="0.2" stroke-opacity="0.5" fill="#111">−0.4</text>
<path d="M63.5 590.00h2.5M272.5 590.00h-2.5" stroke="#858585" stroke-width="1"/>
<text x="60.00" y="594.60" text-anchor="end" font-family="Liberation Sans, sans-serif" font-size="12.15" stroke="#000" stroke-width="0.2" stroke-opacity="0.5" fill="#111">−0.2</text>
<path d="M107.50 685.5v-2.5M107.50 561.5v2.5" stroke="#858585" stroke-width="1"/>
<text x="108.10" y="700.40" text-anchor="middle" font-family="Liberation Sans, sans-serif" font-size="12.15" stroke="#000" stroke-width="0.2" stroke-opacity="0.5" fill="#111">5</text>
<path d="M162.50 685.5v-2.5M162.50 561.5v2.5" stroke="#858585" stroke-width="1"/>
<text x="163.10" y="700.40" text-anchor="middle" font-family="Liberation Sans, sans-serif" font-size="12.15" stroke="#000" stroke-width="0.2" stroke-opacity="0.5" fill="#111">10</text>
<path d="M217.50 685.5v-2.5M217.50 561.5v2.5" stroke="#858585" stroke-width="1"/>
<text x="218.10" y="700.40" text-anchor="middle" font-family="Liberation Sans, sans-serif" font-size="12.15" stroke="#000" stroke-width="0.2" stroke-opacity="0.5" fill="#111">15</text>
<path d="M272.50 685.5v-2.5M272.50 561.5v2.5" stroke="#858585" stroke-width="1"/>
<text x="273.10" y="700.40" text-anchor="middle" font-family="Liberation Sans, sans-serif" font-size="12.15" stroke="#000" stroke-width="0.2" stroke-opacity="0.5" fill="#111">20</text>
<polyline clip-path="url(#c7)" points="63.50,678.78 74.50,665.78 85.50,653.71 96.50,642.59 107.50,632.39 118.50,623.12 129.50,614.74 140.50,607.22 151.50,600.52 162.50,594.59 173.50,589.39 184.50,584.83 195.50,580.86 206.50,577.39 217.50,574.33 228.50,571.60 239.50,569.07 250.50,566.64 261.50,564.19 272.50,561.59" stroke="#000" stroke-width="2.8" fill="none" stroke-linejoin="round"/>
<polyline clip-path="url(#c7)" points="63.50,670.19 74.50,659.19 85.50,648.52 96.50,638.31 107.50,628.67 118.50,619.68 129.50,611.42 140.50,603.92 151.50,597.21 162.50,591.30 173.50,586.15 184.50,581.72 195.50,577.96 206.50,574.78 217.50,572.07 228.50,569.69 239.50,567.51 250.50,565.34 261.50,562.99 272.50,560.26" stroke="#0000ff" stroke-width="2.2" fill="none" stroke-dasharray="1.3 4.1"/>
<polyline clip-path="url(#c7)" points="63.50,647.42 74.50,643.97 85.50,639.35 96.50,633.90 107.50,627.93 118.50,621.70 129.50,615.44 140.50,609.35 151.50,603.56 162.50,598.20 173.50,593.32 184.50,588.98 195.50,585.16 206.50,581.83 217.50,578.89 228.50,576.23 239.50,573.69 250.50,571.08 261.50,568.15 272.50,564.62" stroke="#ff0000" stroke-width="2.9" fill="none" stroke-dasharray="7.3 7.0"/>
<text x="62.6" y="551.5" font-family="Liberation Sans, sans-serif" font-size="12.0" stroke="#000" stroke-width="0.2" stroke-opacity="0.5" fill="#111">7. Substitution effect on Consumption</text>
<text transform="translate(28.6 622.05) rotate(-90)" text-anchor="middle" font-family="Liberation Sans, sans-serif" font-size="12.15" stroke="#000" stroke-width="0.2" stroke-opacity="0.5" fill="#111">Percent Dev. From S.S.</text>
<text x="168.0" y="713.8" text-anchor="middle" font-family="Liberation Sans, sans-serif" font-size="12.15" stroke="#000" stroke-width="0.2" stroke-opacity="0.5" fill="#111">Quarters</text>
<clipPath id="c8"><rect x="337.9" y="560.9" width="210.2" height="125.2"/></clipPath>
<rect x="338.5" y="561.5" width="209.0" height="124.0" fill="none" stroke="#858585" stroke-width="1"/>
<path d="M338.5 667.50h2.5M547.5 667.50h-2.5" stroke="#858585" stroke-width="1"/>
<text x="335.00" y="672.10" text-anchor="end" font-family="Liberation Sans, sans-serif" font-size="12.15" stroke="#000" stroke-width="0.2" stroke-opacity="0.5" fill="#111">−2.5</text>
<path d="M338.5 621.62h2.5M547.5 621.62h-2.5" stroke="#858585" stroke-width="1"/>
<text x="335.00" y="626.23" text-anchor="end" font-family="Liberation Sans, sans-serif" font-size="12.15" stroke="#000" stroke-width="0.2" stroke-opacity="0.5" fill="#111">−2</text>
<path d="M338.5 575.75h2.5M547.5 575.75h-2.5" stroke="#858585" stroke-width="1"/>
<text x="335.00" y="580.35" text-anchor="end" font-family="Liberation Sans, sans-serif" font-size="12.15" stroke="#000" stroke-width="0.2" stroke-opacity="0.5" fill="#111">−1.5</text>
<path d="M389.96 685.5v-2.5M389.96 561.5v2.5" stroke="#858585" stroke-width="1"/>
<text x="390.56" y="700.40" text-anchor="middle" font-family="Liberation Sans, sans-serif" font-size="12.15" stroke="#000" stroke-width="0.2" stroke-opacity="0.5" fill="#111">50</text>
<path d="M442.47 685.5v-2.5M442.47 561.5v2.5" stroke="#858585" stroke-width="1"/>
<text x="443.07" y="700.40" text-anchor="middle" font-family="Liberation Sans, sans-serif" font-size="12.15" stroke="#000" stroke-width="0.2" stroke-opacity="0.5" fill="#111">100</text>
<path d="M494.99 685.5v-2.5M494.99 561.5v2.5" stroke="#858585" stroke-width="1"/>
<text x="495.59" y="700.40" text-anchor="middle" font-family="Liberation Sans, sans-serif" font-size="12.15" stroke="#000" stroke-width="0.2" stroke-opacity="0.5" fill="#111">150</text>
<path d="M547.50 685.5v-2.5M547.50 561.5v2.5" stroke="#858585" stroke-width="1"/>
<text x="548.10" y="700.40" text-anchor="middle" font-family="Liberation Sans, sans-serif" font-size="12.15" stroke="#000" stroke-width="0.2" stroke-opacity="0.5" fill="#111">200</text>
<polyline clip-path="url(#c8)" points="338.50,673.25 339.55,673.25 340.60,673.25 341.65,673.25 342.70,673.25 343.75,673.25 344.80,673.25 345.85,673.25 346.90,673.25 347.95,673.25 349.00,673.25 350.05,673.25 351.10,673.25 352.15,673.25 353.20,673.25 354.25,673.25 355.30,673.25 356.35,673.25 357.40,673.25 358.45,673.25 359.51,673.25 360.56,673.25 361.61,673.25 362.66,673.25 363.71,673.25 364.76,673.25 365.81,673.25 366.86,673.25 367.91,673.25 368.96,673.25 370.01,673.25 371.06,673.25 372.11,673.25 373.16,673.25 374.21,673.25 375.26,673.25 376.31,673.25 377.36,673.25 378.41,673.25 379.46,673.25 380.51,673.25 381.56,673.25 382.61,673.25 383.66,673.25 384.71,673.25 385.76,673.25 386.81,673.25 387.86,673.25 388.91,673.25 389.96,673.25 391.01,673.25 392.06,673.25 393.11,673.25 394.16,673.25 395.21,673.25 396.26,673.25 397.31,673.25 398.36,673.25 399.41,673.25 400.46,673.25 401.52,673.25 402.57,673.25 403.62,673.25 404.67,673.25 405.72,673.25 406.77,673.25 407.82,673.25 408.87,673.25 409.92,673.25 410.97,673.25 412.02,673.25 413.07,673.25 414.12,673.25 415.17,673.25 416.22,673.25 417.27,673.25 418.32,673.25 419.37,673.25 420.42,673.25 421.47,673.25 422.52,673.25 423.57,673.25 424.62,673.25 425.67,673.25 426.72,673.25 427.77,673.25 428.82,673.25 429.87,673.25 430.92,673.25 431.97,673.25 433.02,673.25 434.07,673.25 435.12,673.25 436.17,673.25 437.22,673.25 438.27,673.25 439.32,673.25 440.37,673.25 441.42,673.25 442.47,673.25 443.53,673.25 444.58,673.25 445.63,673.25 446.68,673.25 447.73,673.25 448.78,673.25 449.83,673.25 450.88,673.25 451.93,673.25 452.98,673.25 454.03,673.25 455.08,673.25 456.13,673.25 457.18,673.25 458.23,673.25 459.28,673.25 460.33,673.25 461.38,673.25 462.43,673.25 463.48,673.25 464.53,673.25 465.58,673.25 466.63,673.25 467.68,673.25 468.73,673.25 469.78,673.25 470.83,673.25 471.88,673.25 472.93,673.25 473.98,673.25 475.03,673.25 476.08,673.25 477.13,673.25 478.18,673.25 479.23,673.25 480.28,673.25 481.33,673.25 482.38,673.25 483.43,673.25 484.48,673.25 485.54,673.25 486.59,673.25 487.64,673.25 488.69,673.25 489.74,673.25 490.79,673.25 491.84,673.25 492.89,673.25 493.94,673.25 494.99,673.25 496.04,673.25 497.09,673.25 498.14,673.25 499.19,673.25 500.24,673.25 501.29,673.25 502.34,673.25 503.39,673.25 504.44,673.25 505.49,673.25 506.54,673.25 507.59,673.25 508.64,673.25 509.69,673.25 510.74,673.25 511.79,673.25 512.84,673.25 513.89,673.25 514.94,673.25 515.99,673.25 517.04,673.25 518.09,673.25 519.14,673.25 520.19,673.25 521.24,673.25 522.29,673.25 523.34,673.25 524.39,673.25 525.44,673.25 526.49,673.25 527.55,673.25 528.60,673.25 529.65,673.25 530.70,673.25 531.75,673.25 532.80,673.25 533.85,673.25 534.90,673.25 535.95,673.25 537.00,673.25 538.05,673.25 539.10,673.25 540.15,673.25 541.20,673.25 542.25,673.25 543.30,673.25 544.35,673.25 545.40,673.25 546.45,673.25 547.50,673.25" stroke="#000" stroke-width="2.8" fill="none" stroke-linejoin="round"/>
<polyline clip-path="url(#c8)" points="338.50,644.26 339.55,644.26 340.60,644.26 341.65,644.26 342.70,644.26 343.75,644.26 344.80,644.26 345.85,644.26 346.90,644.26 347.95,644.26 349.00,644.26 350.05,644.26 351.10,644.26 352.15,644.26 353.20,644.26 354.25,644.26 355.30,644.26 356.35,644.26 357.40,644.26 358.45,644.26 359.51,644.26 360.56,644.26 361.61,644.26 362.66,644.26 363.71,644.26 364.76,644.26 365.81,644.26 366.86,644.26 367.91,644.26 368.96,644.26 370.01,644.26 371.06,644.26 372.11,644.26 373.16,644.26 374.21,644.26 375.26,644.26 376.31,644.26 377.36,644.26 378.41,644.26 379.46,644.26 380.51,644.26 381.56,644.26 382.61,644.26 383.66,644.26 384.71,644.26 385.76,644.26 386.81,644.26 387.86,644.26 388.91,644.26 389.96,644.26 391.01,644.26 392.06,644.26 393.11,644.26 394.16,644.26 395.21,644.26 396.26,644.26 397.31,644.26 398.36,644.26 399.41,644.26 400.46,644.26 401.52,644.26 402.57,644.26 403.62,644.26 404.67,644.26 405.72,644.26 406.77,644.26 407.82,644.26 408.87,644.26 409.92,644.26 410.97,644.26 412.02,644.26 413.07,644.26 414.12,644.26 415.17,644.26 416.22,644.26 417.27,644.26 418.32,644.26 419.37,644.26 420.42,644.26 421.47,644.26 422.52,644.26 423.57,644.26 424.62,644.26 425.67,644.26 426.72,644.26 427.77,644.26 428.82,644.26 429.87,644.26 430.92,644.26 431.97,644.26 433.02,644.26 434.07,644.26 435.12,644.26 436.17,644.26 437.22,644.26 438.27,644.26 439.32,644.26 440.37,644.26 441.42,644.26 442.47,644.26 443.53,644.26 444.58,644.26 445.63,644.26 446.68,644.26 447.73,644.26 448.78,644.26 449.83,644.26 450.88,644.26 451.93,644.26 452.98,644.26 454.03,644.26 455.08,644.26 456.13,644.26 457.18,644.26 458.23,644.26 459.28,644.26 460.33,644.26 461.38,644.26 462.43,644.26 463.48,644.26 464.53,644.26 465.58,644.26 466.63,644.26 467.68,644.26 468.73,644.26 469.78,644.26 470.83,644.26 471.88,644.26 472.93,644.26 473.98,644.26 475.03,644.26 476.08,644.26 477.13,644.26 478.18,644.26 479.23,644.26 480.28,644.26 481.33,644.26 482.38,644.26 483.43,644.26 484.48,644.26 485.54,644.26 486.59,644.26 487.64,644.26 488.69,644.26 489.74,644.26 490.79,644.26 491.84,644.26 492.89,644.26 493.94,644.26 494.99,644.26 496.04,644.26 497.09,644.26 498.14,644.26 499.19,644.26 500.24,644.26 501.29,644.26 502.34,644.26 503.39,644.26 504.44,644.26 505.49,644.26 506.54,644.26 507.59,644.26 508.64,644.26 509.69,644.26 510.74,644.26 511.79,644.26 512.84,644.26 513.89,644.26 514.94,644.26 515.99,644.26 517.04,644.26 518.09,644.26 519.14,644.26 520.19,644.26 521.24,644.26 522.29,644.26 523.34,644.26 524.39,644.26 525.44,644.26 526.49,644.26 527.55,644.26 528.60,644.26 529.65,644.26 530.70,644.26 531.75,644.26 532.80,644.26 533.85,644.26 534.90,644.26 535.95,644.26 537.00,644.26 538.05,644.26 539.10,644.26 540.15,644.26 541.20,644.26 542.25,644.26 543.30,644.26 544.35,644.26 545.40,644.26 546.45,644.26 547.50,644.26" stroke="#0000ff" stroke-width="2.2" fill="none" stroke-dasharray="1.3 4.1"/>
<polyline clip-path="url(#c8)" points="338.60,567.50 339.10,577.89 339.60,588.70 340.10,600.44 340.60,607.98 341.10,613.43 341.60,617.88 342.10,622.25 342.60,625.52 343.10,627.72 343.60,629.48 344.10,631.13 344.60,632.79 345.10,634.39 345.60,635.91 346.10,637.29 346.60,638.50 347.10,639.48 347.60,640.32 348.10,641.09 348.60,641.78 349.10,642.41 349.60,643.00 350.10,643.56 350.60,644.09 351.10,644.60 351.60,645.11 352.10,645.60 352.60,646.09 353.10,646.55 353.60,647.00 354.10,647.43 354.60,647.84 355.10,648.23 355.60,648.60 356.10,648.94 356.60,649.26 357.10,649.56 357.60,649.83 358.10,650.09 358.60,650.34 359.10,650.58 359.60,650.80 360.10,651.01 360.60,651.21 361.10,651.40 361.60,651.57 362.10,651.73 362.60,651.89 363.10,652.03 363.60,652.18 364.10,652.32 364.60,652.45 365.10,652.58 365.60,652.70 366.10,652.82 366.60,652.94 367.10,653.04 367.60,653.15 368.10,653.25 368.60,653.35 369.10,653.44 369.60,653.53 370.10,653.62 370.60,653.70 371.10,653.78 371.60,653.85 372.10,653.93 372.60,654.00 373.10,654.06 373.60,654.13 374.10,654.19 374.60,654.25 375.10,654.31 375.60,654.36 376.10,654.41 376.60,654.46 377.10,654.51 377.60,654.56 378.10,654.61 378.60,654.66 379.10,654.71 379.60,654.76 380.10,654.80 380.60,654.84 381.10,654.89 381.60,654.92 382.10,654.96 382.60,654.99 383.10,655.02 383.60,655.05 384.10,655.07 384.60,655.09 385.10,655.10 385.60,655.11 386.10,655.13 386.60,655.14 387.10,655.15 387.60,655.16 388.10,655.17 388.60,655.18 389.10,655.19 389.60,655.20 390.10,655.21 390.60,655.22 391.10,655.23 391.60,655.24 392.10,655.25 392.60,655.26 393.10,655.27 393.60,655.27 394.10,655.28 394.60,655.29 395.10,655.30 395.60,655.31 396.10,655.32 396.60,655.32 397.10,655.33 397.60,655.34 398.10,655.35 398.60,655.35 399.10,655.36 399.60,655.37 400.10,655.37 400.60,655.38 401.10,655.39 401.60,655.39 402.10,655.40 402.60,655.40 403.10,655.41 403.60,655.41 404.10,655.42 404.60,655.42 405.10,655.43 405.60,655.43 406.10,655.44 406.60,655.44 407.10,655.45 407.60,655.45 408.10,655.46 408.60,655.46 409.10,655.46 409.60,655.47 410.10,655.47 410.60,655.47 411.10,655.47 411.60,655.48 412.10,655.48 412.60,655.48 413.10,655.48 413.60,655.49 414.10,655.49 414.60,655.49 415.10,655.49 415.60,655.49 416.10,655.50 416.60,655.50 417.10,655.50 417.60,655.50 418.10,655.50 418.60,655.50 419.10,655.50 419.60,655.50 420.10,655.50 420.60,655.50 421.10,655.50 421.60,655.50 422.10,655.50 422.60,655.50 423.10,655.50 423.60,655.50 424.10,655.50 424.60,655.50 425.10,655.50 425.60,655.50 426.10,655.50 426.60,655.50 427.10,655.50 427.60,655.50 428.10,655.50 428.60,655.50 429.10,655.50 429.60,655.50 430.10,655.50 430.60,655.50 431.10,655.50 431.60,655.50 432.10,655.50 432.60,655.50 433.10,655.50 433.60,655.50 434.10,655.50 434.60,655.50 435.10,655.50 435.60,655.50 436.10,655.50 436.60,655.50 437.10,655.50 437.60,655.50 438.10,655.50 438.60,655.50 439.10,655.50 439.60,655.50 440.10,655.50 440.60,655.50 441.10,655.50 441.60,655.50 442.10,655.50 442.60,655.50 443.10,655.50 443.60,655.50 444.10,655.50 444.60,655.50 445.10,655.50 445.60,655.50 446.10,655.50 446.60,655.50 447.10,655.50 447.60,655.50 448.10,655.50 448.60,655.50 449.10,655.50 449.60,655.50 450.10,655.50 450.60,655.50 451.10,655.50 451.60,655.50 452.10,655.50 452.60,655.50 453.10,655.50 453.60,655.50 454.10,655.50 454.60,655.50 455.10,655.50 455.60,655.50 456.10,655.50 456.60,655.50 457.10,655.50 457.60,655.50 458.10,655.50 458.60,655.50 459.10,655.50 459.60,655.50 460.10,655.50 460.60,655.50 461.10,655.50 461.60,655.50 462.10,655.50 462.60,655.50 463.10,655.50 463.60,655.50 464.10,655.50 464.60,655.50 465.10,655.50 465.60,655.50 466.10,655.50 466.60,655.50 467.10,655.50 467.60,655.50 468.10,655.50 468.60,655.50 469.10,655.50 469.60,655.50 470.10,655.50 470.60,655.50 471.10,655.50 471.60,655.50 472.10,655.50 472.60,655.50 473.10,655.50 473.60,655.50 474.10,655.50 474.60,655.50 475.10,655.50 475.60,655.50 476.10,655.50 476.60,655.50 477.10,655.50 477.60,655.50 478.10,655.50 478.60,655.50 479.10,655.50 479.60,655.50 480.10,655.50 480.60,655.50 481.10,655.50 481.60,655.50 482.10,655.50 482.60,655.50 483.10,655.50 483.60,655.50 484.10,655.50 484.60,655.50 485.10,655.50 485.60,655.50 486.10,655.50 486.60,655.50 487.10,655.50 487.60,655.50 488.10,655.50 488.60,655.50 489.10,655.50 489.60,655.50 490.10,655.50 490.60,655.50 491.10,655.50 491.60,655.50 492.10,655.50 492.60,655.50 493.10,655.50 493.60,655.50 494.10,655.50 494.60,655.50 495.10,655.50 495.60,655.50 496.10,655.50 496.60,655.50 497.10,655.50 497.60,655.50 498.10,655.50 498.60,655.50 499.10,655.50 499.60,655.50 500.10,655.50 500.60,655.50 501.10,655.50 501.60,655.50 502.10,655.50 502.60,655.50 503.10,655.50 503.60,655.50 504.10,655.50 504.60,655.50 505.10,655.50 505.60,655.50 506.10,655.50 506.60,655.50 507.10,655.50 507.60,655.50 508.10,655.50 508.60,655.50 509.10,655.50 509.60,655.50 510.10,655.50 510.60,655.50 511.10,655.50 511.60,655.50 512.10,655.50 512.60,655.50 513.10,655.50 513.60,655.50 514.10,655.50 514.60,655.50 515.10,655.50 515.60,655.50 516.10,655.50 516.60,655.50 517.10,655.50 517.60,655.50 518.10,655.50 518.60,655.50 519.10,655.50 519.60,655.50 520.10,655.50 520.60,655.50 521.10,655.50 521.60,655.50 522.10,655.50 522.60,655.50 523.10,655.50 523.60,655.50 524.10,655.50 524.60,655.50 525.10,655.50 525.60,655.50 526.10,655.50 526.60,655.50 527.10,655.50 527.60,655.50 528.10,655.50 528.60,655.50 529.10,655.50 529.60,655.50 530.10,655.50 530.60,655.50 531.10,655.50 531.60,655.50 532.10,655.50 532.60,655.50 533.10,655.50 533.60,655.50 534.10,655.50 534.60,655.50 535.10,655.50 535.60,655.50 536.10,655.50 536.60,655.50 537.10,655.50 537.60,655.50 538.10,655.50 538.60,655.50 539.10,655.50 539.60,655.50 540.10,655.50 540.60,655.50 541.10,655.50 541.60,655.50 542.10,655.50 542.60,655.50 543.10,655.50 543.60,655.50 544.10,655.50 544.60,655.50 545.10,655.50 545.60,655.50 546.10,655.50 546.60,655.50 547.10,655.50" stroke="#ff0000" stroke-width="2.9" fill="none" stroke-dasharray="7.3 7.0"/>
<text x="331.6" y="551.5" font-family="Liberation Sans, sans-serif" font-size="12.0" stroke="#000" stroke-width="0.2" stroke-opacity="0.5" fill="#111">8. Relative Price of Equipment Investment</text>
<text transform="translate(303.7 622.05) rotate(-90)" text-anchor="middle" font-family="Liberation Sans, sans-serif" font-size="12.15" stroke="#000" stroke-width="0.2" stroke-opacity="0.5" fill="#111">Percent Dev. From S.S.</text>
<text x="443.0" y="713.8" text-anchor="middle" font-family="Liberation Sans, sans-serif" font-size="12.15" stroke="#000" stroke-width="0.2" stroke-opacity="0.5" fill="#111">Quarters</text>
<rect x="123.5" y="717.5" width="379" height="55" fill="#fff" stroke="#858585" stroke-width="1"/>
<path d="M130.8 727.8H168" stroke="#000" stroke-width="2.8" fill="none" stroke-linejoin="round"/>
<text x="171" y="732.5" font-family="Liberation Sans, sans-serif" font-size="12.15" stroke="#000" stroke-width="0.2" stroke-opacity="0.5" fill="#111">IST Shock</text>
<path d="M130.8 744.8H168" stroke="#0000ff" stroke-width="2.2" fill="none" stroke-dasharray="1.3 4.1"/>
<text x="171" y="749.0" font-family="Liberation Sans, sans-serif" font-size="12.15" stroke="#000" stroke-width="0.2" stroke-opacity="0.5" fill="#111">MFP Shock (incomplete specialization)</text>
<path d="M130.8 761.3H168" stroke="#ff0000" stroke-width="2.9" fill="none" stroke-dasharray="7.3 7.0"/>
<text x="171" y="765.8" font-family="Liberation Sans, sans-serif" font-size="12.15" stroke="#000" stroke-width="0.2" stroke-opacity="0.5" fill="#111">MFP Shock (all departures from assumptions for equivalence)</text>
</svg></body></html>
